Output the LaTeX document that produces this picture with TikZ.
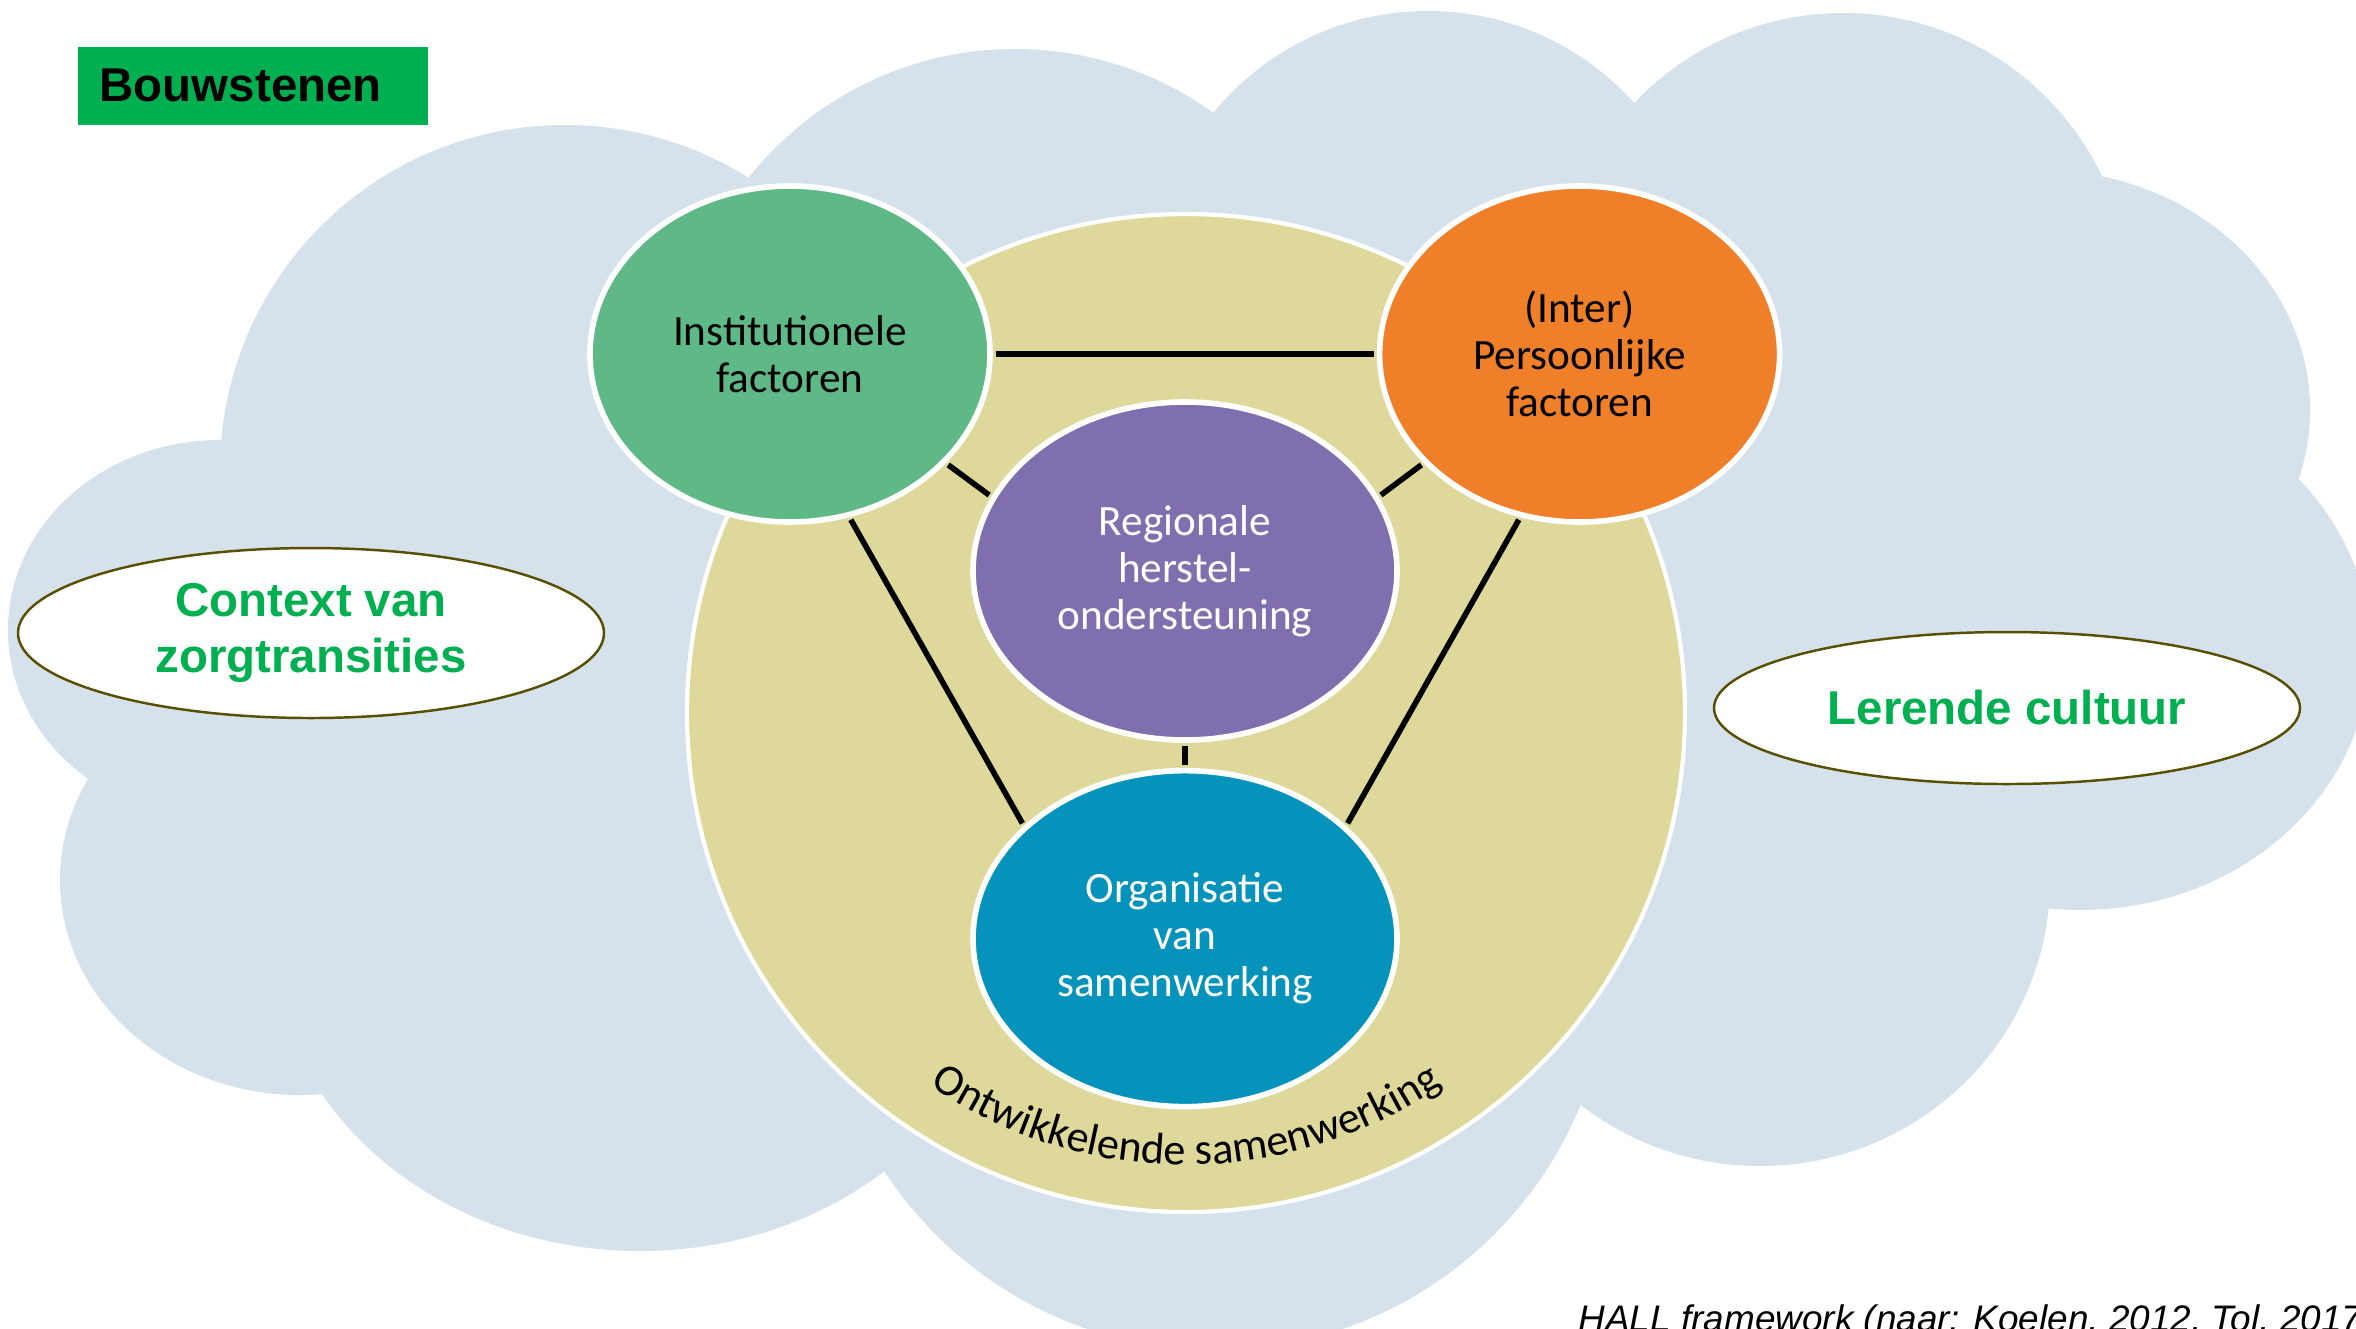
\documentclass[tikz,border=0pt]{standalone}
\usepackage{fontspec}
\setmainfont{Liberation Sans}
\newfontfamily\carlito{Carlito}
\usetikzlibrary{shapes.geometric,positioning,decorations.text}
\definecolor{cloudblue}{RGB}{213,226,236}
\definecolor{khaki}{RGB}{222,217,154}
\definecolor{instgreen}{RGB}{94,185,135}
\definecolor{persorange}{RGB}{240,127,41}
\definecolor{regiopurple}{RGB}{127,111,174}
\definecolor{orgteal}{RGB}{5,147,187}
\definecolor{labelgreen}{RGB}{0,176,80}
\definecolor{bubbleedge}{RGB}{89,79,0}
\tikzset{
    factor/.style={ellipse,draw=white,line width=1.6pt,inner sep=0pt,align=center,font=\carlito\fontsize{12.3}{13.4}\selectfont},
    ring/.style={circle,fill=khaki,draw=white,line width=1.2pt,inner sep=0pt,minimum size=99.8mm},
    bubble/.style={ellipse,fill=white,draw=bubbleedge,line width=0.7pt,inner sep=0pt,align=center,text=labelgreen,font=\bfseries\fontsize{13.5}{16}\selectfont},
    tagbox/.style={fill=labelgreen,inner xsep=2.2mm,inner ysep=0pt,text width=30.6mm,minimum height=7.8mm,align=left,font=\bfseries\fontsize{13.5}{16}\selectfont},
    link/.style={-,line width=1.6pt,shorten <=0.8pt,shorten >=0.8pt}
}

\begin{document}
\begin{tikzpicture}[x=0.1mm,y=-0.1mm]

    \path[use as bounding box,fill=white] (0,0) rectangle (2356,1328);

    % cloud
    \foreach \cx/\cy/\rx/\ry in {1200/650/850/450, 565/470/345/345, 1015/389/340/340, 1428/288/277/277,
                                1843/300/287/287, 2040/410/270/240, 2080/650/290/260, 1760/880/290/286,
                                1215/955/395/395, 640/930/370/321, 300/880/240/215, 220/630/212/190}
        \fill[cloudblue] (\cx,\cy) ellipse[x radius=\rx,y radius=\ry];

    \node[tagbox,anchor=north west] (bouwstenen) at (77,46) {Bouwstenen};

    \node[ring] (ring) at (1186,713) {};

    \node[factor,fill=regiopurple,text=white,minimum width=42.4mm,minimum height=33.8mm] (regio) at (1185,571) {Regionale\\herstel-\\ondersteuning};
    \node[factor,fill=orgteal,text=white,minimum width=42.4mm,minimum height=33.6mm,below=2.5mm of regio] (org) {Organisatie\\van\\samenwerking};
    \node[factor,fill=instgreen,minimum width=40mm,minimum height=33.6mm] (inst) at (790,354) {Institutionele\\factoren};
    \node[factor,fill=persorange,minimum width=40mm,minimum height=33.6mm,right=38.4mm of inst] (pers) {(Inter)\\Persoonlijke\\factoren};

    \draw[link] (inst.east) -- (pers.west);
    \draw[link] (inst.-35) -- (regio.159);
    \draw[link] (pers.-145) -- (regio.21);
    \draw[link] (regio.south) -- (org.north);
    \draw[link] (inst.-70) -- (org.145);
    \draw[link] (pers.-110) -- (org.35);

    \path[decorate,decoration={text along path,text align=center,
            text={|\carlito\fontsize{12.6}{14}\selectfont|Ontwikkelende samenwerking}}]
        ([shift={(124:452)}]ring.center) arc[start angle=124,end angle=56,radius=452];

    \node[bubble,minimum width=58.6mm,minimum height=17mm] (context) at (311,633) {Context van\\zorgtransities};
    \node[bubble,minimum width=58.6mm,minimum height=15.2mm] (cultuur) at (2007,708) {Lerende cultuur};

    \node[anchor=base west,inner sep=0pt,font=\itshape\fontsize{10.5}{12.6}\selectfont] (bron) at (1578,1331) {HALL framework (naar: Koelen, 2012, Tol, 2017};

\end{tikzpicture}
\end{document}
